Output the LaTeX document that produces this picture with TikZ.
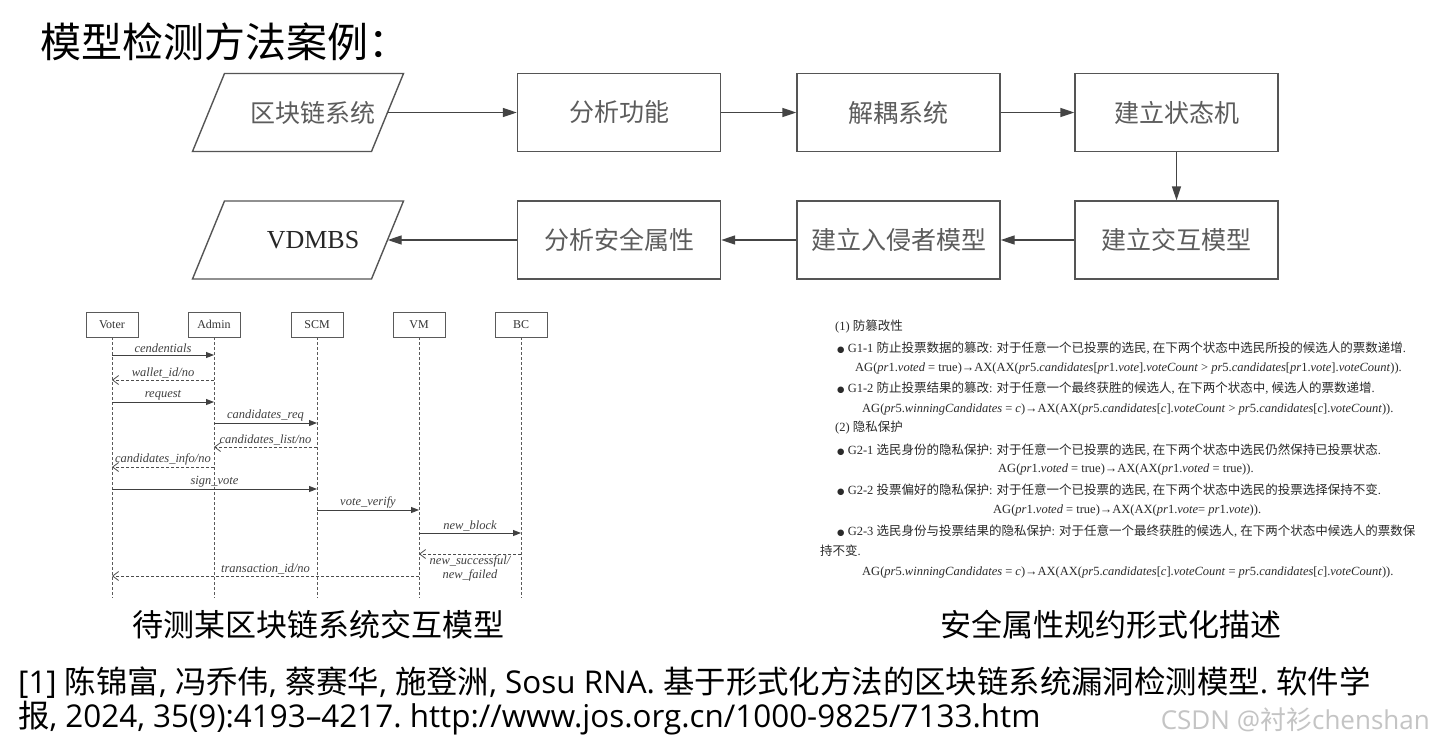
\documentclass[tikz,border=0pt]{standalone}
\usepackage{fontspec}
\setmainfont{Liberation Serif}
\newfontfamily\cjk{Noto Sans CJK SC}
\newfontfamily\latinsans{Open Sans}
\newfontfamily\symfont{DejaVu Sans}
\usetikzlibrary{arrows.meta,calc}

\definecolor{boxgray}{HTML}{555555}
\definecolor{stagetext}{HTML}{5C5C5C}
\definecolor{seqgray}{HTML}{5A5A5A}
\definecolor{spectext}{HTML}{2A2A2A}
\definecolor{markgray}{HTML}{C4C4C4}

\newcommand\zhtxt[1]{{\cjk #1}}
\newcommand\markzh[1]{{\cjk #1}}
\newcommand\blt{{\symfont\fontsize{8.5}{8.5}\selectfont ●}}

\tikzset{
  stage/.style={draw=boxgray, line width=1.4pt, minimum width=203pt, minimum height=78pt,
    inner sep=0pt, text=stagetext, font=\fontsize{25}{30}\selectfont\cjk},
  iobox/.style={minimum width=149pt, minimum height=78pt, inner sep=0pt},
  ioline/.style={draw=boxgray, line width=1.4pt, line join=miter},
  flow/.style={draw=boxgray!80!black, line width=1.4pt, -{Triangle[length=14pt,width=9pt]}},
  actor/.style={draw=seqgray, line width=0.9pt, minimum width=52pt, minimum height=25pt,
    inner sep=0pt, text=black!80, font=\fontsize{12}{14}\selectfont},
  life/.style={draw=seqgray, line width=0.8pt, dash pattern=on 3pt off 2pt},
  call/.style={draw=black!75, line width=0.9pt, -{Triangle[length=8pt,width=6pt]}},
  reply/.style={draw=black!70, line width=0.8pt, dash pattern=on 3pt off 2pt,
    -{Straight Barb[length=6pt,width=9pt]}},
  lbl/.style={inner sep=1.5pt, text=black!75, font=\fontsize{12.5}{14}\selectfont\itshape},
  spec/.style={anchor=west, inner sep=0pt, text=spectext, font=\fontsize{12.5}{15}\selectfont},
  caption/.style={inner sep=0pt, text=black, font=\fontsize{31}{36}\selectfont\cjk},
  refline/.style={anchor=west, inner sep=0pt, text=black,
    font=\fontsize{31.4}{34}\selectfont\latinsans\frenchspacing},
}

\begin{document}
\begin{tikzpicture}[x=1pt,y=-1pt]
\useasboundingbox (0,0) rectangle (1435,745);
\fill[white] (0,0) rectangle (1435,745);

% heading
\node[anchor=west, inner sep=0pt, font=\fontsize{41}{46}\selectfont\cjk] (title) at (40,42) {模型检测方法案例：};

% ---------- workflow ----------
% input / output parallelograms: the label sits right of the shape's middle
\node[iobox, text=stagetext, font=\fontsize{25}{30}\selectfont\cjk] (src) at (313,112.5) {区块链系统};
\path (src.center) ++(-15,0) coordinate (srcMid);
\draw[ioline] ($(srcMid)+(-105.5,39)$) -- ($(srcMid)+(-73.5,-39)$)
  -- ($(srcMid)+(105.5,-39)$) -- ($(srcMid)+(73.5,39)$) -- cycle;
\node[stage] (ana) at (619,112.5) {分析功能};
\node[stage] (dec) at (898.5,112.5) {解耦系统};
\node[stage] (fsm) at (1176.5,112.5) {建立状态机};

\node[stage] (inter) at (1176.5,240) {建立交互模型};
\node[stage] (intr) at (898.5,240) {建立入侵者模型};
\node[stage] (sec) at (619,240) {分析安全属性};
\node[iobox, text=black!85, font=\fontsize{26}{30}\selectfont] (out) at (313,240) {VDMBS};
\path (out.center) ++(-15,0) coordinate (outMid);
\draw[ioline] ($(outMid)+(-105.5,39)$) -- ($(outMid)+(-73.5,-39)$)
  -- ($(outMid)+(105.5,-39)$) -- ($(outMid)+(73.5,39)$) -- cycle;

\draw[flow] (src) -- (ana);
\draw[flow] (ana) -- (dec);
\draw[flow] (dec) -- (fsm);
\draw[flow] (fsm) -- (inter);
\draw[flow] (inter) -- (intr);
\draw[flow] (intr) -- (sec);
\draw[flow] (sec) -- (out);

% ---------- sequence chart ----------
\node[actor] (voter) at (112,324.5) {Voter};
\node[actor] (admin) at (214,324.5) {Admin};
\node[actor] (scm) at (317,324.5) {SCM};
\node[actor] (vm) at (419,324.5) {VM};
\node[actor] (bc) at (521,324.5) {BC};
\coordinate (voterEnd) at (112,598);
\coordinate (adminEnd) at (214,598);
\coordinate (scmEnd) at (317,598);
\coordinate (vmEnd) at (419,598);
\coordinate (bcEnd) at (521,598);
\draw[life] (voter.south) -- (voterEnd);
\draw[life] (admin.south) -- (adminEnd);
\draw[life] (scm.south) -- (scmEnd);
\draw[life] (vm.south) -- (vmEnd);
\draw[life] (bc.south) -- (bcEnd);

\draw[call] (voter |- 0,355) -- node[lbl, above] {cendentials} (admin |- 0,355);
\draw[reply] (admin |- 0,380) -- node[lbl, above] {wallet\_id/no} (voter |- 0,380);
\draw[call] (voter |- 0,402) -- node[lbl, above] {request} (admin |- 0,402);
\draw[call] (admin |- 0,423) -- node[lbl, above] {candidates\_req} (scm |- 0,423);
\draw[reply] (scm |- 0,447) -- node[lbl, above] {candidates\_list/no} (admin |- 0,447);
\draw[reply] (admin |- 0,467) -- node[lbl, above] {candidates\_info/no} (voter |- 0,467);
\draw[call] (voter |- 0,489) -- node[lbl, above] {sign\_vote} (scm |- 0,489);
\draw[call] (scm |- 0,510) -- node[lbl, above] {vote\_verify} (vm |- 0,510);
\draw[call] (vm |- 0,533) -- node[lbl, above] {new\_block} (bc |- 0,533);
\draw[reply] (bc |- 0,554) -- node[lbl, below, align=center] {new\_successful/\\new\_failed} (vm |- 0,554);
\draw[reply] (vm |- 0,576) -- node[lbl, above] {transaction\_id/no} (voter |- 0,576);

% ---------- security properties ----------
\node[spec] (p1) at (835,327) {(1) \zhtxt{防篡改性}};
\node[spec] (g11) at (837,348) {\blt\ G1-1 \zhtxt{防止投票数据的篡改}: \zhtxt{对于任意一个已投票的选民}, \zhtxt{在下两个状态中选民所投的候选人的票数递增}.};
\node[spec] (f11) at (855,368) {AG(\textit{pr}1.\textit{voted} = true)→AX(AX(\textit{pr}5.\textit{candidates}[\textit{pr}1.\textit{vote}].\textit{voteCount} > \textit{pr}5.\textit{candidates}[\textit{pr}1.\textit{vote}].\textit{voteCount})).};
\node[spec] (g12) at (837,388) {\blt\ G1-2 \zhtxt{防止投票结果的篡改}: \zhtxt{对于任意一个最终获胜的候选人}, \zhtxt{在下两个状态中}, \zhtxt{候选人的票数递增}.};
\node[spec] (f12) at (862,409) {AG(\textit{pr}5.\textit{winningCandidates} = \textit{c})→AX(AX(\textit{pr}5.\textit{candidates}[\textit{c}].\textit{voteCount} > \textit{pr}5.\textit{candidates}[\textit{c}].\textit{voteCount})).};
\node[spec] (p2) at (835,428) {(2) \zhtxt{隐私保护}};
\node[spec] (g21) at (837,450) {\blt\ G2-1 \zhtxt{选民身份的隐私保护}: \zhtxt{对于任意一个已投票的选民}, \zhtxt{在下两个状态中选民仍然保持已投票状态}.};
\node[spec] (f21) at (998,469) {AG(\textit{pr}1.\textit{voted} = true)→AX(AX(\textit{pr}1.\textit{voted} = true)).};
\node[spec] (g22) at (837,490) {\blt\ G2-2 \zhtxt{投票偏好的隐私保护}: \zhtxt{对于任意一个已投票的选民}, \zhtxt{在下两个状态中选民的投票选择保持不变}.};
\node[spec] (f22) at (993,510) {AG(\textit{pr}1.\textit{voted} = true)→AX(AX(\textit{pr}1.\textit{vote}= \textit{pr}1.\textit{vote})).};
\node[spec] (g23) at (837,531) {\blt\ G2-3 \zhtxt{选民身份与投票结果的隐私保护}: \zhtxt{对于任意一个最终获胜的候选人}, \zhtxt{在下两个状态中候选人的票数保}};
\node[spec] (g23b) at (820,551) {\zhtxt{持不变}.};
\node[spec] (f23) at (862,572) {AG(\textit{pr}5.\textit{winningCandidates} = \textit{c})→AX(AX(\textit{pr}5.\textit{candidates}[\textit{c}].\textit{voteCount} = \textit{pr}5.\textit{candidates}[\textit{c}].\textit{voteCount})).};

% ---------- captions ----------
\node[caption] (capL) at (318,625) {待测某区块链系统交互模型};
\node[caption] (capR) at (1111,625) {安全属性规约形式化描述};

% ---------- reference ----------
\node[refline] (ref1) at (18,683) {[1] \zhtxt{陈锦富}, \zhtxt{冯乔伟}, \zhtxt{蔡赛华}, \zhtxt{施登洲}, Sosu RNA. \zhtxt{基于形式化方法的区块链系统漏洞检测模型}. \zhtxt{软件学}};
\node[refline] (ref2) at (18,718) {\zhtxt{报}, 2024, 35(9):4193–4217. http://www.jos.org.cn/1000-9825/7133.htm};

\node[anchor=east, inner sep=0pt, text=markgray, font=\fontsize{26}{30}\selectfont\latinsans] (mark) at (1430,720) {CSDN @\markzh{衬衫}chenshan};
\end{tikzpicture}
\end{document}
